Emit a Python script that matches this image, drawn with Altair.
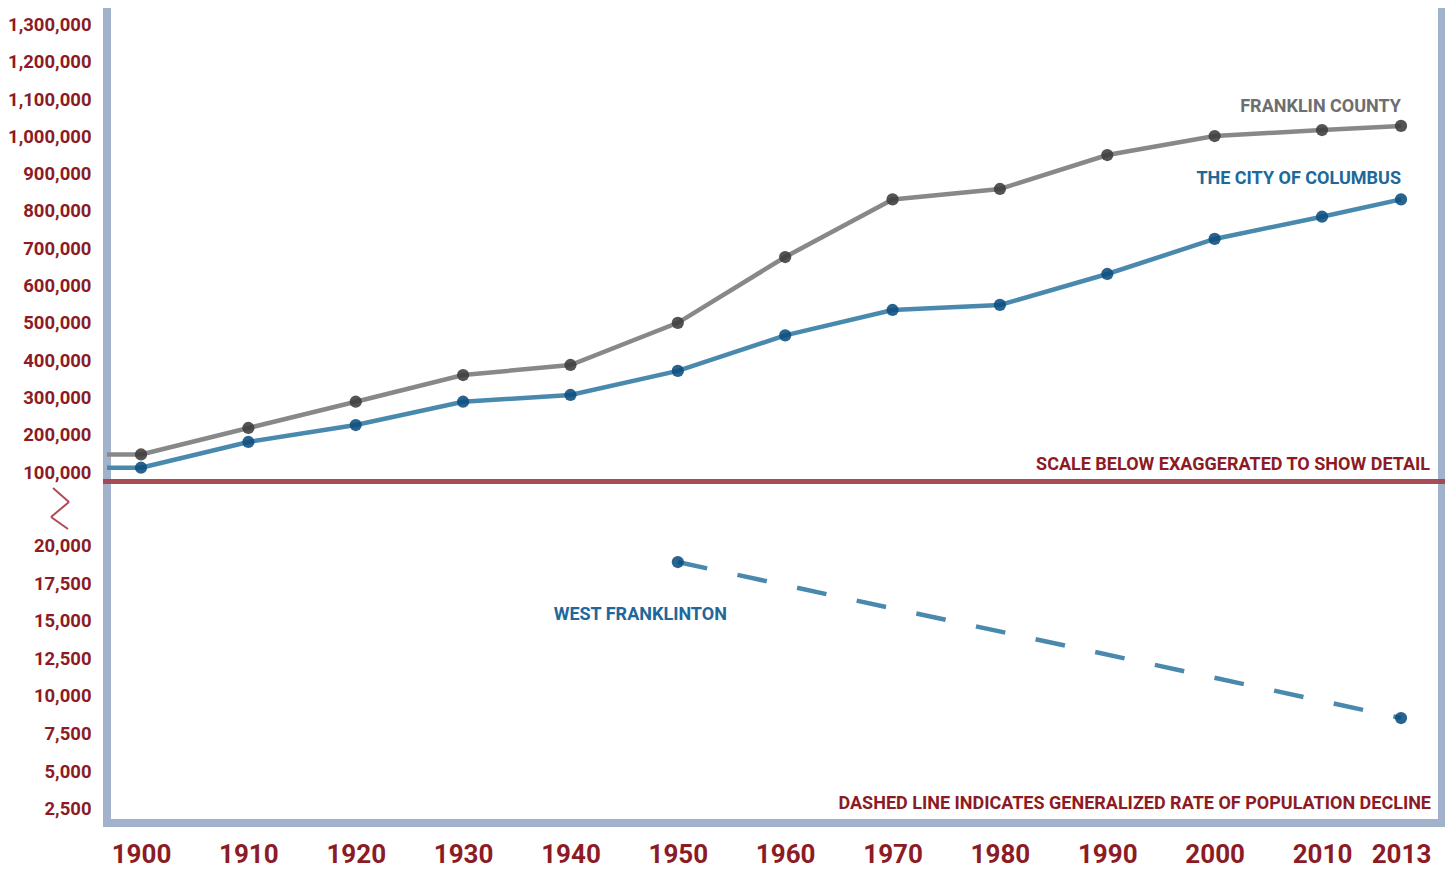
import altair as alt
import pandas as pd

# ---- data ----
years = [1900, 1910, 1920, 1930, 1940, 1950, 1960, 1970, 1980, 1990, 2000, 2010, 2013]
franklin = [147000, 218000, 288500, 360000, 387000, 500000, 676500, 831000,
            859000, 950000, 1001000, 1017000, 1028000]
columbus = [111500, 180500, 226000, 288500, 306500, 371000, 466500, 534500,
            548000, 631000, 725000, 784500, 831000]
wf_years = [1950, 2013]
wf_pop = [18900, 8530]

y_ticks = [2500, 5000, 7500, 10000, 12500, 15000, 17500, 20000,
           100000, 200000, 300000, 400000, 500000, 600000, 700000, 800000,
           900000, 1000000, 1100000, 1200000, 1300000]
x_ticks = years

W, H = 1335, 815
FONT = "Roboto"
RED = "#8c1b25"
FRAME = "#a2b2cb"
GRAY_LINE = "#888888"
GRAY_DOT = "#3c3c3e"
BLUE_LINE = "#4a89ae"
BLUE_DOT = "#0b4d7e"
BLUE_TEXT = "#20689a"
GRAY_TEXT = "#6d6e71"

xscale = alt.Scale(domain=[1900, 2010, 2013], range=[34, 1215, 1294])
yscale = alt.Scale(domain=[1549, 20000, 100000, 1344250], range=[815, 537.5, 464, 0])

df_f = pd.DataFrame({"year": years, "pop": franklin})
df_c = pd.DataFrame({"year": years, "pop": columbus})
df_w = pd.DataFrame({"year": wf_years, "pop": wf_pop})
one = pd.DataFrame({"k": [0]})

X = alt.X("year:Q", scale=xscale,
          axis=alt.Axis(values=x_ticks, format="d", title=None, domain=False, ticks=False,
                        tickSize=0, grid=False, labelPadding=31.5, labelBaseline="middle",
                        labelFont=FONT, labelFontSize=26, labelFontWeight="bold",
                        labelColor=RED, labelFlush=False, labelOverlap=False))
Y = alt.Y("pop:Q", scale=yscale,
          axis=alt.Axis(values=y_ticks, format=",d", title=None, domain=False, ticks=False,
                        tickSize=0, grid=False, labelPadding=16, labelFont=FONT,
                        labelFontSize=18.5, labelFontWeight="bold", labelColor=RED,
                        labelFlush=False, labelOverlap=False))
Xs = alt.X("year:Q", scale=xscale)
Ys = alt.Y("pop:Q", scale=yscale)


def series(df, line_color, dot_color, dash=None):
    lkw = dict(color=line_color, strokeWidth=4.5)
    if dash:
        lkw["strokeDash"] = dash
    line = alt.Chart(df).mark_line(**lkw).encode(x=Xs, y=Ys)
    dots = alt.Chart(df).mark_circle(size=150, color=dot_color, opacity=0.88).encode(x=Xs, y=Ys)
    return line, dots


f_line, f_dots = series(df_f, GRAY_LINE, GRAY_DOT)
c_line, c_dots = series(df_c, BLUE_LINE, BLUE_DOT)
w_line, w_dots = series(df_w, BLUE_LINE, BLUE_DOT, dash=[30, 31])

# lead-in segments from the frame to the 1900 values
f_lead = alt.Chart(df_f.head(1)).mark_rule(color=GRAY_LINE, strokeWidth=4.5).encode(
    x=Xs, x2=alt.value(0), y=Ys)
c_lead = alt.Chart(df_c.head(1)).mark_rule(color=BLUE_LINE, strokeWidth=4.5).encode(
    x=Xs, x2=alt.value(0), y=Ys)

# axis carrier (invisible points so axes are drawn)
axes = alt.Chart(df_f).mark_point(opacity=0).encode(x=X, y=Y)


def vrule(color, width, x1, y1, x2=None, y2=None, opacity=1.0):
    enc = dict(x=alt.value(x1), y=alt.value(y1))
    if x2 is not None:
        enc["x2"] = alt.value(x2)
    if y2 is not None:
        enc["y2"] = alt.value(y2)
    return alt.Chart(one).mark_rule(color=color, strokeWidth=width, opacity=opacity).encode(**enc)


# frame
frame_left = vrule(FRAME, 8, 0, -8, x2=0, y2=H + 4)
frame_bottom = vrule(FRAME, 8, -4, H, x2=W + 4, y2=H)
frame_right = vrule(FRAME, 8, W, -8, x2=W, y2=H + 4)

# scale break line and zigzag
break_line = vrule("#a3434e", 5, -4, 473.5, x2=W + 5, y2=473.5, opacity=0.95)
pts = [(-54, 480), (-38, 494), (-56, 509), (-39, 521)]
zz = [vrule("#b04a55", 2, a[0], a[1], x2=b[0], y2=b[1]) for a, b in zip(pts[:-1], pts[1:])]


# labels
def label_data(text, color, align, year, pop):
    d = pd.DataFrame({"t": [text], "year": [year], "pop": [pop]})
    return alt.Chart(d).mark_text(
        font=FONT, fontSize=18, fontWeight="bold", color=color,
        align=align, baseline="middle").encode(text="t:N", x=Xs, y=Ys)


def label_px(text, color, align, x, y):
    d = pd.DataFrame({"t": [text]})
    return alt.Chart(d).mark_text(
        font=FONT, fontSize=18, fontWeight="bold", color=color,
        align=align, baseline="middle").encode(text="t:N", x=alt.value(x), y=alt.value(y))


lab_f = label_data("FRANKLIN COUNTY", GRAY_TEXT, "right", 2013, 1080000)
lab_c = label_data("THE CITY OF COLUMBUS", BLUE_TEXT, "right", 2013, 886000)
lab_w = label_data("WEST FRANKLINTON", BLUE_TEXT, "center", 1946.5, 15400)
lab_s = label_px("SCALE BELOW EXAGGERATED TO SHOW DETAIL", RED, "right", 1323, 457)
lab_d = label_px("DASHED LINE INDICATES GENERALIZED RATE OF POPULATION DECLINE", RED,
                 "right", 1324, 796)

chart = alt.layer(
    axes, frame_left, frame_bottom, frame_right, break_line, *zz,
    f_lead, c_lead, f_line, c_line, w_line, f_dots, c_dots, w_dots,
    lab_f, lab_c, lab_w, lab_s, lab_d,
).properties(
    width=W, height=H,
    autosize=alt.AutoSizeParams(type="none"),
    padding={"left": 99, "top": 0, "right": 3, "bottom": 46},
).configure_view(stroke=None)

chart.save("out.html", embed_options={"renderer": "svg", "actions": False})
